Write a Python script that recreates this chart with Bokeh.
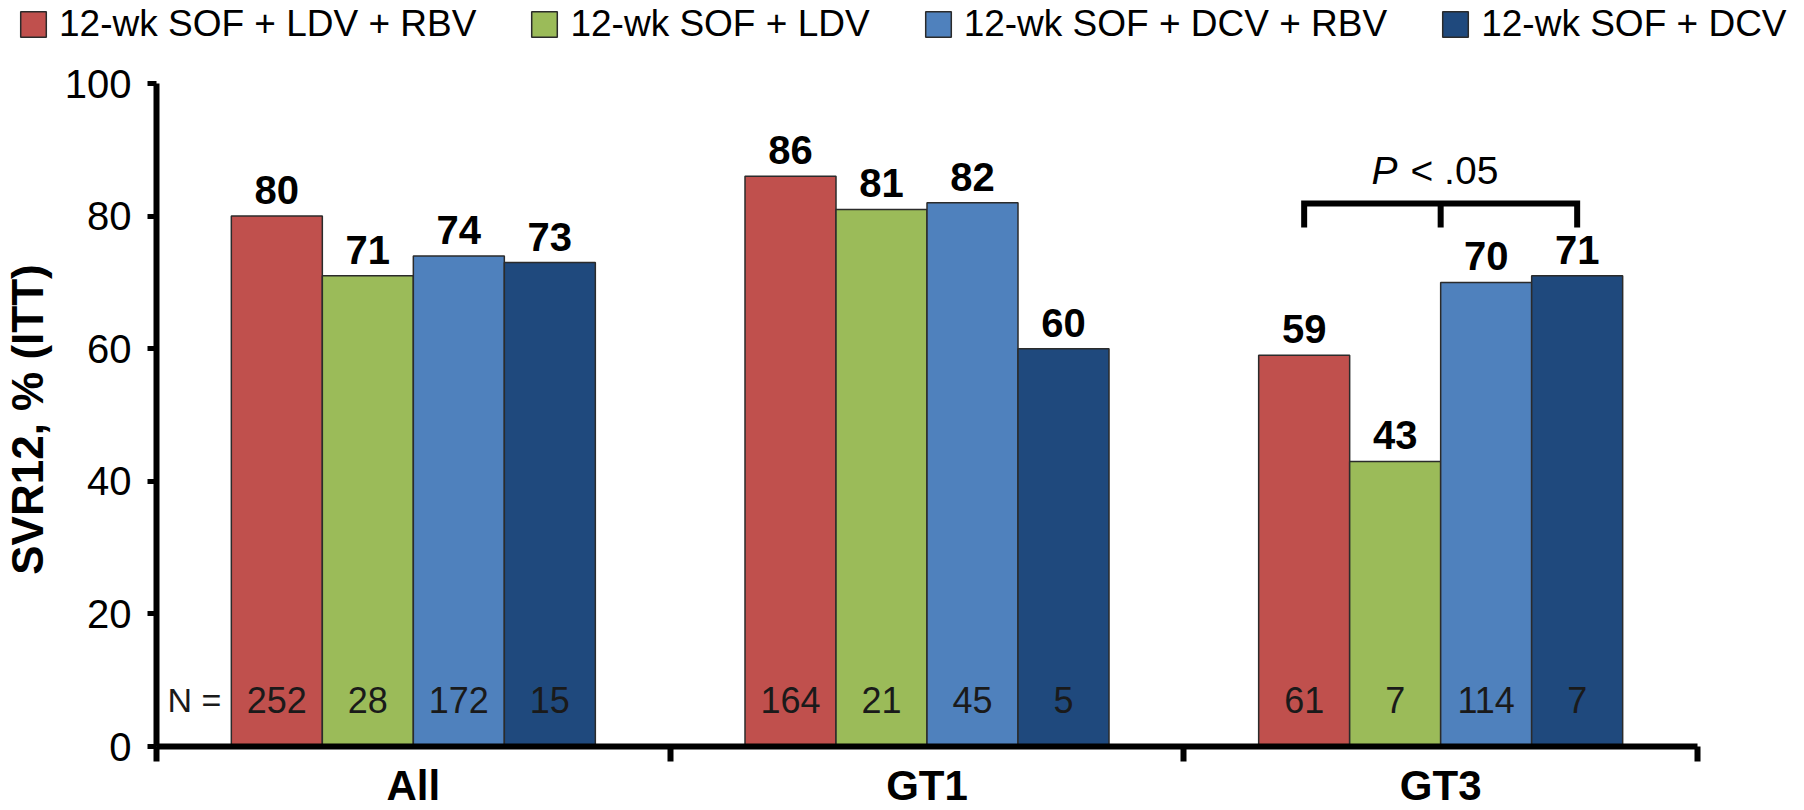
import math
from bokeh.plotting import figure
from bokeh.models import FixedTicker, Legend, LegendItem, ColumnDataSource
from bokeh.core.properties import value
from bokeh.embed import file_html
from bokeh.resources import INLINE

# ---------------- data ----------------
categories = ["All", "GT1", "GT3"]
series = ["12-wk SOF + LDV + RBV", "12-wk SOF + LDV",
          "12-wk SOF + DCV + RBV", "12-wk SOF + DCV"]
svr_sof_ldv_rbv = [80, 86, 59]
svr_sof_ldv = [71, 81, 43]
svr_sof_dcv_rbv = [74, 82, 70]
svr_sof_dcv = [73, 60, 71]
n_sof_ldv_rbv = [252, 164, 61]
n_sof_ldv = [28, 21, 7]
n_sof_dcv_rbv = [172, 45, 114]
n_sof_dcv = [15, 5, 7]
y_ticks = [0, 20, 40, 60, 80, 100]
y_title = "SVR12, % (ITT)"
n_prefix = "N ="
p_letter = "P"
p_rest = "< .05"

# ---------------- layout (page pixels) ----------------
MARGIN = 0
W, H = 1804, 810
X0_PX, X3_PX = 156.0, 1697.0      # page x of data x=0 and x=3
Y0_PX, Y100_PX = 746.0, 83.0      # page y of data y=0 and y=100
PX_X = (X3_PX - X0_PX) / 3.0
PX_Y = (Y0_PX - Y100_PX) / 100.0

def dx(page_x):
    return (page_x - X0_PX) / PX_X

def dy(page_y):
    return (Y0_PX - page_y) / PX_Y

x_start, x_end = dx(MARGIN), dx(MARGIN + W)
y_start, y_end = dy(MARGIN + H), dy(MARGIN)

FONT = value("Liberation Sans")
colors = ["#C0504D", "#9BBB59", "#4F81BD", "#1F497D"]
values = [svr_sof_ldv_rbv, svr_sof_ldv, svr_sof_dcv_rbv, svr_sof_dcv]
counts = [n_sof_ldv_rbv, n_sof_ldv, n_sof_dcv_rbv, n_sof_dcv]

p = figure(width=W, height=H, x_range=(x_start, x_end), y_range=(y_start, y_end),
           min_border=0, output_backend="svg", toolbar_location=None)
p.grid.visible = False
p.outline_line_color = None
p.background_fill_color = "white"

bar_w = 91.0 / PX_X
offsets = [(j - 1.5) * bar_w for j in range(4)]
label_gap = 26.0 / PX_Y          # label centre above bar top
n_center = dy(699.5)

items = []
for j in range(4):
    xs = [i + 0.5 + offsets[j] for i in range(len(categories))]
    src = ColumnDataSource(dict(
        x=xs, top=values[j],
        lab=[str(v) for v in values[j]],
        ly=[v + label_gap for v in values[j]],
        n=[str(v) for v in counts[j]],
    ))
    r = p.vbar(x="x", top="top", bottom=0, width=bar_w, source=src,
               fill_color=colors[j], line_color="#2b2b2b", line_width=1.5)
    p.text(x="x", y="ly", text="lab", source=src, text_align="center",
           text_baseline="middle", text_font=FONT, text_font_size="40px",
           text_font_style="bold", text_color="black")
    p.text(x="x", y=n_center, text="n", source=src, text_align="center",
           text_baseline="middle", text_font=FONT, text_font_size="36px",
           text_color="#1a1a1a")
    items.append(LegendItem(label=series[j], renderers=[r]))

p.text(x=[dx(194)], y=[n_center], text=[n_prefix], text_align="center",
       text_baseline="middle", text_font=FONT, text_font_size="34px",
       text_color="#1a1a1a")

# y-axis title
p.text(x=[dx(27)], y=[dy(419)], text=[y_title], angle=math.pi / 2,
       text_align="center", text_baseline="middle", text_font=FONT,
       text_font_size="44px", text_font_style="bold", text_color="black")

# significance bracket on GT3 group
g = len(categories) - 1
xl = g + 0.5 + offsets[0]
xr = g + 0.5 + offsets[3]
xm = (xl + xr) / 2
yb, yl = dy(203), dy(227)
p.multi_line(xs=[[xl, xl, xr, xr], [xm, xm]], ys=[[yl, yb, yb, yl], [yb, yl]],
             line_color="black", line_width=6, line_join="miter")
p.text(x=[dx(1371)], y=[dy(170)], text=[p_letter], text_align="left",
       text_baseline="middle", text_font=FONT, text_font_size="39px",
       text_font_style="italic", text_color="black")
p.text(x=[dx(1410)], y=[dy(170)], text=[p_rest], text_align="left",
       text_baseline="middle", text_font=FONT, text_font_size="39px",
       text_color="black")

# axes
ya = p.yaxis[0]
ya.fixed_location = 0
ya.bounds = (0, 100)
ya.ticker = FixedTicker(ticks=y_ticks)
ya.axis_line_width = 6
ya.axis_line_color = "black"
ya.major_tick_out = 9
ya.major_tick_in = 0
ya.minor_tick_out = 0
ya.minor_tick_in = 0
ya.major_tick_line_width = 5
ya.major_tick_line_color = "black"
ya.major_label_text_font = "Liberation Sans"
ya.major_label_text_font_size = "40px"
ya.major_label_text_color = "black"
ya.major_label_standoff = 16

xa = p.xaxis[0]
xa.fixed_location = 0
xa.bounds = (0, len(categories))
xa.ticker = FixedTicker(ticks=[i + 0.5 for i in range(len(categories))],
                        minor_ticks=[i for i in range(len(categories) + 1)])
xa.major_label_overrides = {i + 0.5: c for i, c in enumerate(categories)}
xa.axis_line_width = 6
xa.axis_line_color = "black"
xa.major_tick_out = 0
xa.major_tick_in = 0
xa.minor_tick_out = 15
xa.minor_tick_in = 0
xa.minor_tick_line_width = 6
xa.minor_tick_line_color = "black"
xa.major_label_text_font = "Liberation Sans"
xa.major_label_text_font_size = "42px"
xa.major_label_text_font_style = "bold"
xa.major_label_text_color = "black"
xa.major_label_standoff = 0

legend = Legend(items=items, orientation="horizontal", location=(17, 765),
                glyph_width=32, glyph_height=32, label_standoff=10, spacing=52,
                padding=0, margin=0, border_line_color=None,
                background_fill_alpha=0, label_text_font="Liberation Sans",
                label_text_font_size="37px", label_text_color="black")
p.add_layout(legend)

open("out.html", "w").write(file_html(p, INLINE))
